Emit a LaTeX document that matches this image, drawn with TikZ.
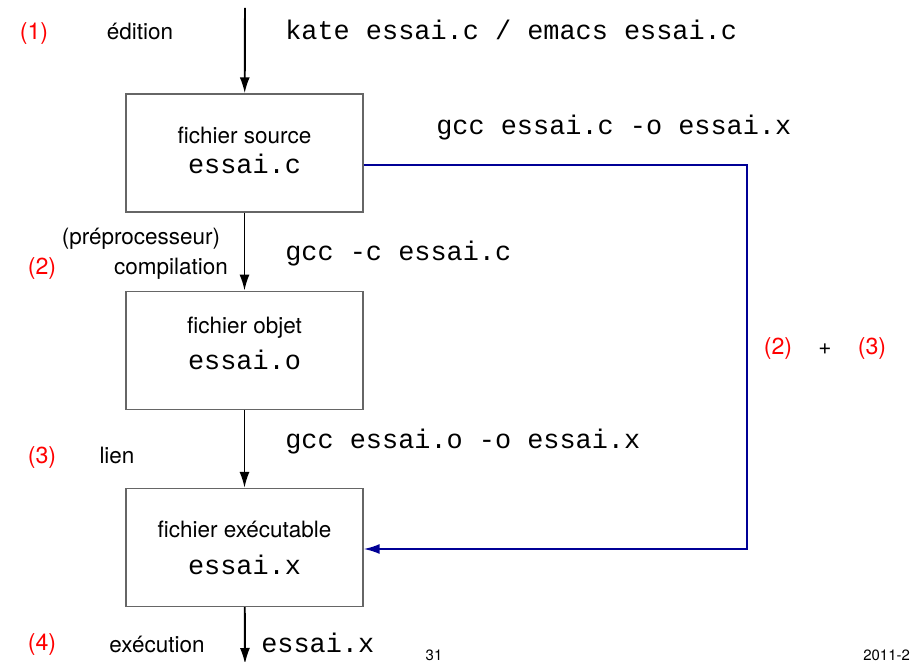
\documentclass[tikz,border=0pt]{standalone}
\usepackage{fontspec}
\setmainfont{TeX Gyre Heros}
\setmonofont{Liberation Mono}
\usetikzlibrary{positioning,arrows.meta}
\definecolor{bleu}{RGB}{0,0,150}
\newcommand{\sanstxt}{\fontsize{12.8}{15}\selectfont}
\newcommand{\codetxt}{\ttfamily\fontsize{15.3}{18}\selectfont}
\begin{document}
\begin{tikzpicture}
[x=0.02cm,y=-0.02cm,
box/.style={draw=black!60,line width=0.75pt,minimum width=4.74cm,minimum height=2.36cm,inner sep=0pt,align=center,font=\sanstxt},
flux/.style={line width=1.1pt,-{Latex[length=0.32cm,width=0.2cm]}},
raccourci/.style={flux,color=bleu},
etape/.style={text=red,font=\fontsize{13.2}{15}\selectfont,anchor=base,inner sep=0pt},
etiq/.style={font=\sanstxt,anchor=base,inner sep=0pt},
cmd/.style={font=\codetxt,anchor=base west,inner sep=0pt},
pied/.style={font=\fontsize{8.5}{10}\selectfont,anchor=base,inner sep=0pt}]

\useasboundingbox (0,0) rectangle (910,662);

\node[box,text depth=3pt] (src) at (244.5,153) {fichier source\\[2pt]{\codetxt essai.c}};
\node[box,text depth=8pt,below=1.56cm of src] (obj) {fichier objet\\[6pt]{\codetxt essai.o}};
\node[box,below=1.56cm of obj] (exe) {fichier exécutable\\[6pt]{\codetxt essai.x}};

\coordinate (entree) at (245,8);
\coordinate (sortie) at (245,664);
\coordinate (coin haut) at (747,165);
\coordinate (coin bas) at (747,549);

\draw[flux] (entree) -- (src);
\draw[flux] (src) -- (obj);
\draw[flux] (obj) -- (exe);
\draw[flux] (exe) -- (sortie);
\draw[raccourci] (src.east |- coin haut) -- (coin haut) -- (coin bas) -- (exe.east |- coin bas);

\node[etape] (n1) at (34,40) {(1)};
\node[etiq] (edition) at (140,40) {édition};
\node[cmd] (kate) at (285,40) {kate essai.c / emacs essai.c};
\node[cmd] (gccx) at (436,135) {gcc essai.c -o essai.x};
\node[etiq] (prepro) at (141,245) {(préprocesseur)};
\node[etape] (n2) at (42,275) {(2)};
\node[etiq] (compil) at (171,275) {compilation};
\node[cmd] (gccc) at (285,261) {gcc -c essai.c};
\node[etape] (n3) at (42,463) {(3)};
\node[etiq] (lien) at (117,463) {lien};
\node[cmd] (gcco) at (285,448) {gcc essai.o -o essai.x};
\node[etape] (n4) at (42,650) {(4)};
\node[etiq] (exec) at (157,652) {exécution};
\node[cmd] (run) at (261,652) {essai.x};
\node[etape] (deux) at (778,355) {(2)};
\node[etiq] (plus) at (825,355) {+};
\node[etape] (trois) at (872,355) {(3)};
\node[pied] (page) at (434,660) {31};
\node[pied,anchor=base west] (date) at (863,660) {2011-2};
\end{tikzpicture}
\end{document}
